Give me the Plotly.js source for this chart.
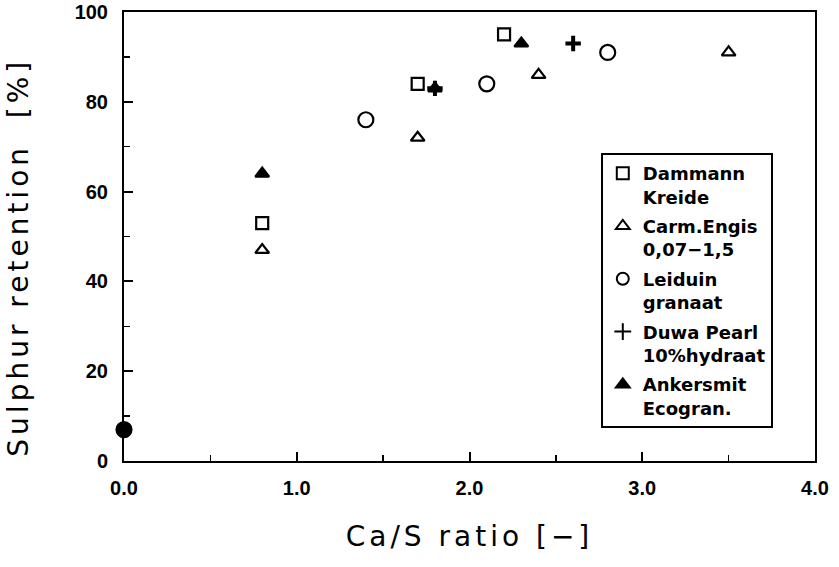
<!DOCTYPE html>
<html>
<head>
<meta charset="utf-8">
<script src="https://cdn.plot.ly/plotly-3.0.1.min.js"></script>
<style>
html,body{margin:0;padding:0;background:#fff;}
#chart{width:839px;height:567px;}
.xtitle, .annotation-text{letter-spacing:4px;}
</style>
</head>
<body>
<div id="chart"></div>
<script>
// Data
const dammannX = [0.8, 1.7, 2.2];
const dammannY = [53, 84, 95];
const carmX = [0.8, 1.7, 2.4, 3.5];
const carmY = [47, 72, 86, 91];
const leiduinX = [1.4, 2.1, 2.8];
const leiduinY = [76, 84, 91];
const duwaX = [1.8, 2.6];
const duwaY = [83, 93];
const ankerX = [0.8, 1.8, 2.3];
const ankerY = [64, 83, 93];
const blankX = [0.0];
const blankY = [7];

const names = ["Dammann<br>Kreide", "Carm.Engis<br>0,07\u22121,5", "Leiduin<br>granaat", "Duwa Pearl<br>10%hydraat", "Ankersmit<br>Ecogran."];
const xTickVals = [0, 1, 2, 3, 4];
const xTickText = ["0.0", "1.0", "2.0", "3.0", "4.0"];
const yTickVals = [0, 20, 40, 60, 80, 100];
const yTickText = ["0", "20", "40", "60", "80", "100"];
const xTitle = 'Ca/S ratio [\u2212]';
const yTitle = 'Sulphur retention\u00a0\u00a0[%]';

const lineCol = '#000';
function tr(x, y, name, symbol, size, group) {
  return {
    x: x, y: y, name: name, type: 'scatter', mode: 'markers', cliponaxis: false,
    legendgroup: group,
    marker: {symbol: symbol, size: size, color: '#000', line: {color: '#000', width: 2.2}}
  };
}
const data = [
  tr(dammannX, dammannY, names[0], 'square-open', 12, 'a'),
  tr(carmX, carmY, names[1], 'triangle-up-open', 12, 'b'),
  tr(leiduinX, leiduinY, names[2], 'circle-open', 15, 'c'),
  tr(duwaX, duwaY, names[3], 'cross-thin-open', 11, 'd'),
  tr(ankerX, ankerY, names[4], 'triangle-up', 12, 'e'),
  Object.assign(tr(blankX, blankY, 'origin', 'circle', 15, 'f'), {showlegend: false})
];
data[3].marker.line.width = 4;

const tickFont = {family: 'Liberation Sans, Arial, sans-serif', size: 20, color: '#000', weight: 'bold'};
const titleFont = {family: 'DejaVu Sans, sans-serif', size: 28, color: '#000'};
const layout = {
  width: 839, height: 567,
  margin: {l: 124, r: 24, t: 12, b: 106},
  paper_bgcolor: '#fff', plot_bgcolor: '#fff',
  showlegend: true,
  xaxis: {
    range: [0, 4], tickvals: xTickVals, ticktext: xTickText,
    ticks: 'inside', ticklen: 9, tickwidth: 2, tickcolor: lineCol,
    minor: {dtick: 0.5, ticks: 'inside', ticklen: 6, tickwidth: 1.5, tickcolor: lineCol},
    showgrid: false, zeroline: false, showline: true, linecolor: lineCol, linewidth: 2, mirror: true,
    tickfont: tickFont, ticklabelstandoff: 8,
    title: {text: xTitle, font: titleFont, standoff: 28}
  },
  yaxis: {
    range: [0, 100], tickvals: yTickVals, ticktext: yTickText,
    ticks: 'inside', ticklen: 9, tickwidth: 2, tickcolor: lineCol,
    minor: {dtick: 10, ticks: 'inside', ticklen: 6, tickwidth: 1.5, tickcolor: lineCol},
    showgrid: false, zeroline: false, showline: true, linecolor: lineCol, linewidth: 2, mirror: true,
    tickfont: tickFont, ticklabelstandoff: 10
  },
  annotations: [{
    text: yTitle, textangle: -90, showarrow: false,
    xref: 'paper', yref: 'paper', x: -0.152, y: 0.455, xanchor: 'center', yanchor: 'middle',
    font: titleFont
  }],
  legend: {
    x: 0.69, y: 0.686, xanchor: 'left', yanchor: 'top',
    bordercolor: '#000', borderwidth: 2, bgcolor: '#fff',
    font: {family: 'DejaVu Sans, sans-serif', size: 18, color: '#000', weight: 'bold'},
    valign: 'top', tracegroupgap: 3, itemsizing: 'constant'
  }
};
Plotly.newPlot('chart', data, layout, {displayModeBar: false, staticPlot: true});
</script>
</body>
</html>
